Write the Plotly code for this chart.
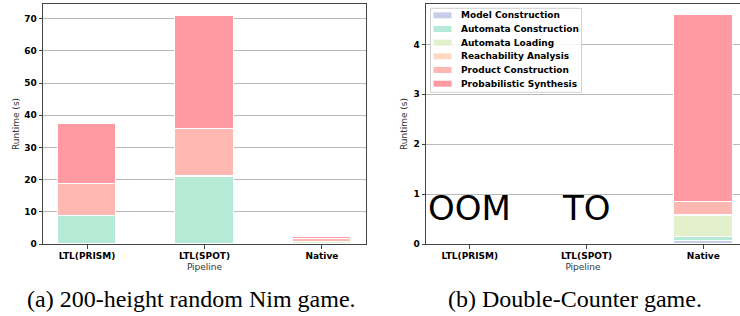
import plotly.graph_objects as go

pipelines = ["LTL(PRISM)", "LTL(SPOT)", "Native"]
stages = ["Model Construction", "Automata Construction", "Automata Loading",
          "Reachability Analysis", "Product Construction", "Probabilistic Synthesis"]
colors = ["#C7CEEA", "#B5EAD7", "#E2F0CB", "#FFDAC1", "#FFB7B2", "#FF9AA2"]

# (a) 200-height random Nim game -- runtime (s) per stage, per pipeline
nim_model = [0.1, 0.1, 0.05]
nim_automata_constr = [8.6, 20.7, 0.1]
nim_automata_load = [0.0, 0.0, 0.45]
nim_reach = [0.1, 0.3, 0.02]
nim_product = [10.0, 14.5, 0.83]
nim_synth = [18.5, 35.4, 0.6]

# (b) Double-Counter game (PRISM: OOM, SPOT: TO)
dc_model = [0, 0, 0.06]
dc_automata_constr = [0, 0, 0.075]
dc_automata_load = [0, 0, 0.42]
dc_reach = [0, 0, 0.02]
dc_product = [0, 0, 0.27]
dc_synth = [0, 0, 3.74]

nim_series = [nim_model, nim_automata_constr, nim_automata_load, nim_reach, nim_product, nim_synth]
dc_series = [dc_model, dc_automata_constr, dc_automata_load, dc_reach, dc_product, dc_synth]

fail_labels = ["OOM", "TO"]
fail_x = [0, 1]
fail_y = [0.72, 0.72]

captions = ["(a) 200-height random Nim game.", "(b) Double-Counter game."]

fig = go.Figure()
for i, name in enumerate(stages):
    fig.add_trace(go.Bar(
        x=[0, 1, 2], y=nim_series[i], name=name, width=0.5,
        marker=dict(color=colors[i], line=dict(color="white", width=1)),
        xaxis="x", yaxis="y", showlegend=False))
for i, name in enumerate(stages):
    fig.add_trace(go.Bar(
        x=[0, 1, 2], y=dc_series[i], name=name, width=0.5,
        marker=dict(color=colors[i], line=dict(color="white", width=1)),
        xaxis="x2", yaxis="y2", showlegend=False))

tickfont = dict(family="DejaVu Sans", size=9, color="black", weight="bold")
titlefont = dict(family="DejaVu Sans", size=9, color="#333333")

axis_common = dict(
    showline=True, linecolor="#444444", linewidth=1, mirror=True,
    ticks="outside", ticklen=3.5, tickcolor="#444444", tickwidth=1,
    tickfont=tickfont, zeroline=False,
)

W, H = 740, 316
ml, mr, mt, mb = 43, 0, 4, 72
pw = W - ml - mr
ph = H - mt - mb
left_end = (366 - ml) / pw
right_start = (426 - ml) / pw


def px(x):
    return (x - ml) / pw


def py(y):
    return (H - mb - y) / ph


fig.update_layout(
    width=W, height=H,
    margin=dict(l=ml, r=mr, t=mt, b=mb, pad=0),
    paper_bgcolor="white", plot_bgcolor="white",
    barmode="stack", bargap=0, showlegend=False,
    font=dict(family="DejaVu Sans", size=9, color="black"),
    xaxis=dict(domain=[0, left_end], range=[-0.375, 2.375], tickvals=[0, 1, 2],
               ticktext=pipelines, showgrid=False,
               title=dict(text="Pipeline", font=titlefont, standoff=3), **axis_common),
    yaxis=dict(domain=[0, 1], range=[0, 74.6], tickvals=[0, 10, 20, 30, 40, 50, 60, 70],
               showgrid=True, gridcolor="#b8b8b8", gridwidth=1, layer="above traces",
               title=dict(text="Runtime (s)", font=titlefont, standoff=3), **axis_common),
    xaxis2=dict(domain=[right_start, 1], range=[-0.375, 2.314], tickvals=[0, 1, 2],
                ticktext=pipelines, showgrid=False, anchor="y2",
                title=dict(text="Pipeline", font=titlefont, standoff=3), **axis_common),
    yaxis2=dict(domain=[0, 1], range=[0, 4.81], tickvals=[0, 1, 2, 3, 4], anchor="x2",
                showgrid=True, gridcolor="#b8b8b8", gridwidth=1, layer="above traces",
                title=dict(text="Runtime (s)", font=titlefont, standoff=4), **axis_common),
)

# Legend (drawn as box + swatches + labels, matplotlib-style compact layout)
fig.add_shape(type="rect", xref="paper", yref="paper",
              x0=px(430.5), x1=px(581.5), y0=py(92.3), y1=py(8.3),
              fillcolor="rgba(255,255,255,0.85)", line=dict(color="#d0d0d0", width=1),
              layer="above")
row0, row_step = 15.3, 13.68
for i, (name, col) in enumerate(zip(stages, colors)):
    yc = row0 + i * row_step
    fig.add_shape(type="rect", xref="paper", yref="paper",
                  x0=px(433.5), x1=px(451.5), y0=py(yc + 3), y1=py(yc - 3),
                  fillcolor=col, line=dict(width=0), layer="above")
    fig.add_annotation(x=px(459), y=py(yc), xref="paper", yref="paper", text=name,
                       showarrow=False, xanchor="left", yanchor="middle",
                       font=dict(family="DejaVu Sans", size=9, color="black", weight="bold"))

for lab, xv, yv in zip(fail_labels, fail_x, fail_y):
    fig.add_annotation(x=xv, y=yv, xref="x2", yref="y2", text=lab, showarrow=False,
                       xanchor="center", yanchor="middle",
                       font=dict(family="DejaVu Sans", size=34, color="black"))

fig.add_annotation(x=px(191), y=py(299), xref="paper", yref="paper",
                   text=captions[0], showarrow=False, xanchor="center", yanchor="middle",
                   font=dict(family="Liberation Serif", size=24, color="black"))
fig.add_annotation(x=px(575), y=py(299), xref="paper", yref="paper",
                   text=captions[1], showarrow=False, xanchor="center", yanchor="middle",
                   font=dict(family="Liberation Serif", size=24, color="black"))

fig.write_html("out.html", config={"displayModeBar": False},
               post_script="document.body.style.margin='0px';document.body.style.overflow='hidden';")
